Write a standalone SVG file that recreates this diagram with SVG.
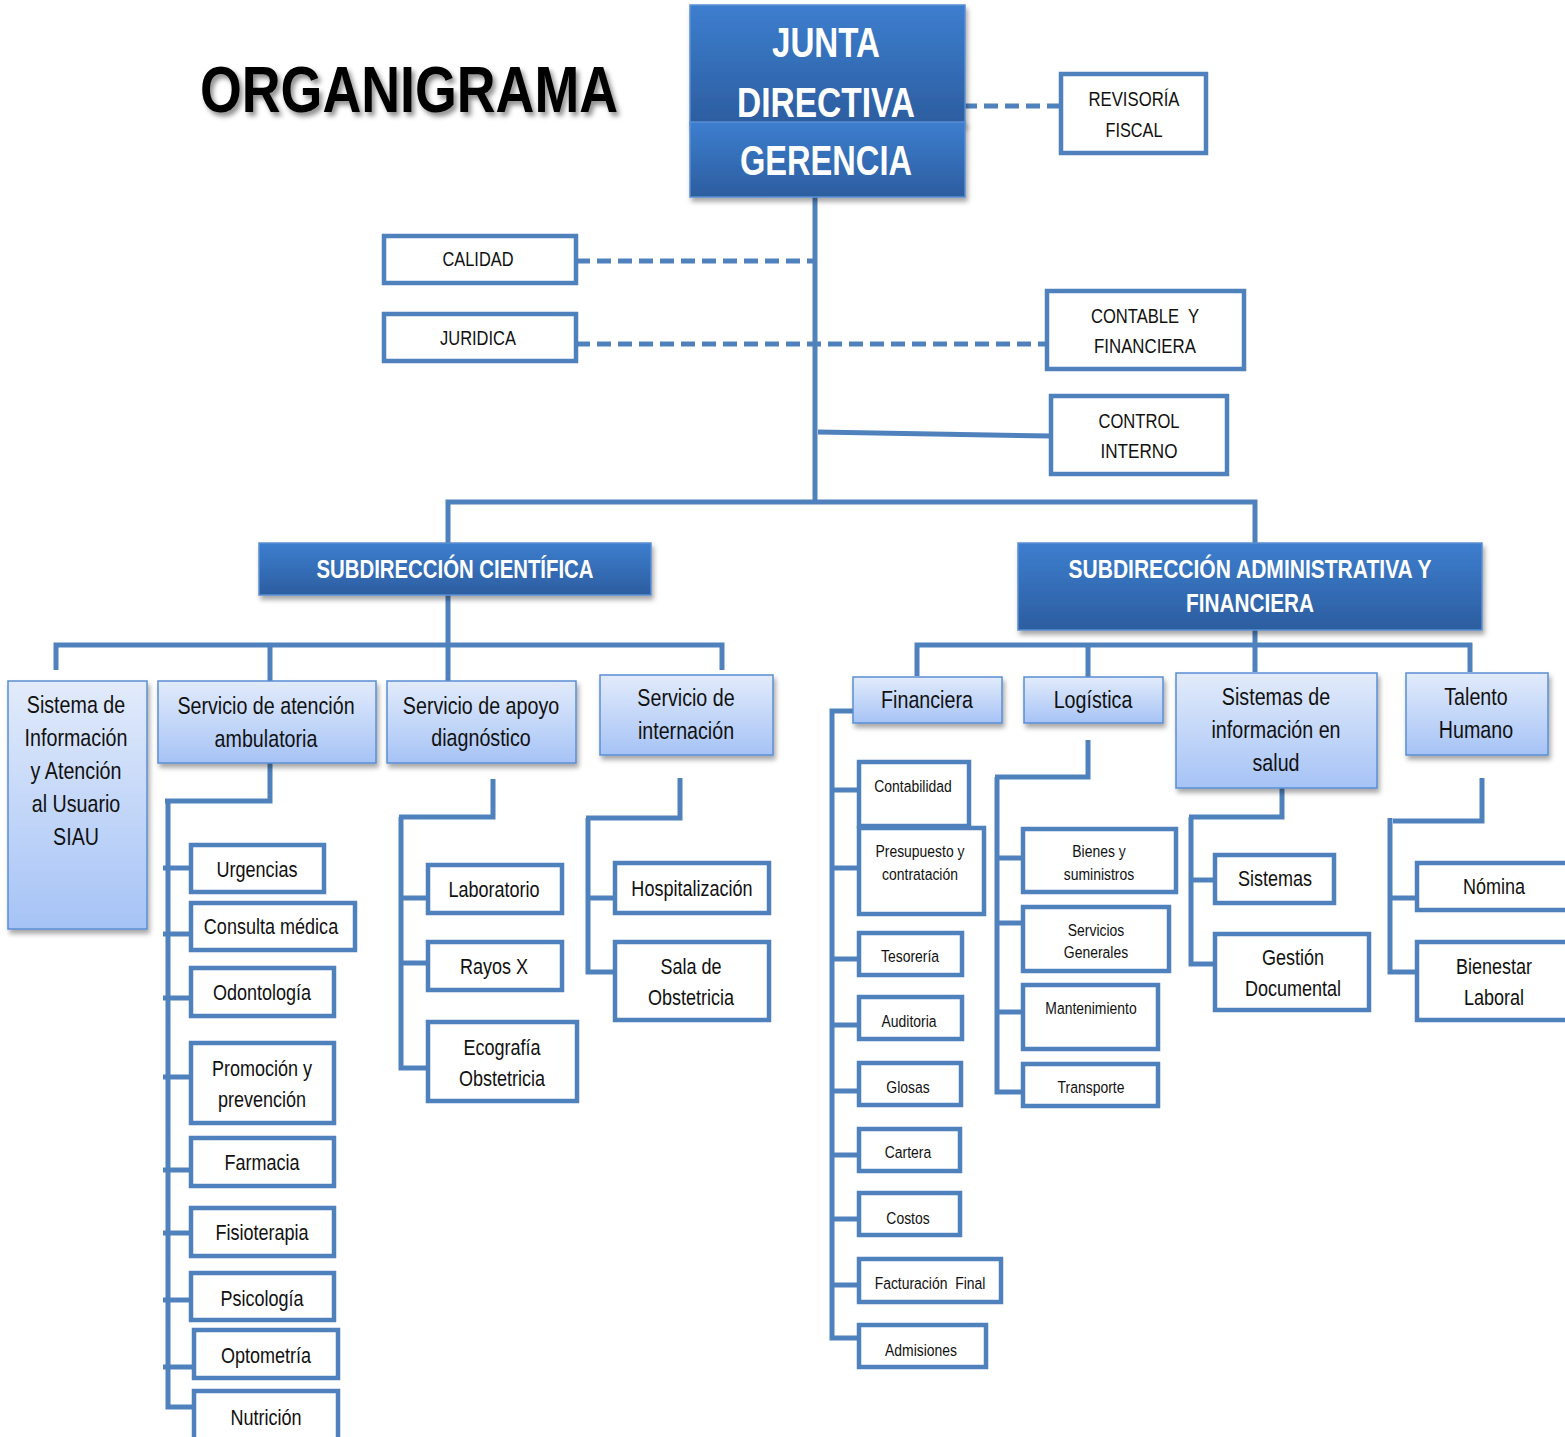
<svg xmlns="http://www.w3.org/2000/svg" width="1565" height="1437" viewBox="0 0 1565 1437">
<defs>
<linearGradient id="gDark" x1="0" y1="0" x2="0" y2="1"><stop offset="0" stop-color="#3D7ECF"/><stop offset="1" stop-color="#2C5D9F"/></linearGradient>
<linearGradient id="gLight" x1="0" y1="0" x2="0" y2="1"><stop offset="0" stop-color="#E2EBFB"/><stop offset="1" stop-color="#A6C3F6"/></linearGradient>
<filter id="sh" x="-10%" y="-10%" width="130%" height="140%"><feDropShadow dx="2" dy="4" stdDeviation="2.5" flood-color="#000" flood-opacity="0.35"/></filter>
<filter id="tsh" x="-5%" y="-20%" width="115%" height="150%"><feDropShadow dx="3" dy="4" stdDeviation="2.5" flood-color="#000" flood-opacity="0.45"/></filter>
<style>
.dark{fill:url(#gDark);stroke:#5A8ED3;stroke-width:1.5}
.light{fill:url(#gLight);stroke:#5A8ED3;stroke-width:1.5}
.wbox{fill:#fff;stroke:#4F81BD;stroke-width:4.5}
.ln{fill:none;stroke:#4F81BD;stroke-width:5}
.dash{fill:none;stroke:#4F81BD;stroke-width:5;stroke-dasharray:14 7}
text{font-family:"Liberation Sans",Arial,sans-serif;text-anchor:middle;fill:#111}
.t2{font-size:24px}
.t3{font-size:22px}
.t4{font-size:17px}
.tc{font-size:21px}
.tb{font-weight:bold;fill:#fff}
</style>
</defs>
<rect width="1565" height="1437" fill="#fff"/>
<text x="409" y="112" font-size="64" font-weight="bold" textLength="418" lengthAdjust="spacingAndGlyphs" filter="url(#tsh)" style="fill:#000">ORGANIGRAMA</text>

<g id="connectors">
<path class="dash" d="M963 106H1061"/>
<path class="dash" d="M576 261H815"/>
<path class="dash" d="M576 344H1050"/>
<path class="ln" d="M815 197V502"/>
<path class="ln" d="M818 432L1051 436"/>
<path class="ln" d="M448 543V502H1255V543"/>
<path class="ln" d="M448 595V681"/>
<path class="ln" d="M56 670V645H722V670"/>
<path class="ln" d="M270 645V681"/>
<path class="ln" d="M1255 630V672"/>
<path class="ln" d="M917 676V645H1470V672"/>
<path class="ln" d="M1088 645V677"/>
<path class="ln" d="M270 763V801H165"/>
<path class="ln" d="M168 801V1407H194"/>
<path class="ln" d="M163 868H191M163 934H191M163 998H191M163 1077H191M163 1170H191M163 1233H191M163 1300H191M163 1367H194"/>
<path class="ln" d="M493 779V817H399"/>
<path class="ln" d="M401 817V1068H428"/>
<path class="ln" d="M401 898H428M401 963H428"/>
<path class="ln" d="M680 778V818H586"/>
<path class="ln" d="M588 818V972H615"/>
<path class="ln" d="M588 898H615"/>
<path class="ln" d="M853 711H832V1338H859"/>
<path class="ln" d="M832 790H859M832 868H859M832 959H859M832 1025H859M832 1091H859M832 1155H859M832 1219H859M832 1285H859"/>
<path class="ln" d="M1088 740V777H995"/>
<path class="ln" d="M997 777V1092H1023"/>
<path class="ln" d="M997 858H1023M997 923H1023M997 1012H1023"/>
<path class="ln" d="M1282 788V817H1189"/>
<path class="ln" d="M1191 817V964H1215"/>
<path class="ln" d="M1191 880H1215"/>
<path class="ln" d="M1482 778V821H1393"/>
<path class="ln" d="M1390 818V972H1417"/>
<path class="ln" d="M1390 898H1417"/>
</g>

<g id="junta"><rect class="dark" x="690" y="5" width="275" height="120" filter="url(#sh)"/>
<text class="tb" x="826" y="57" font-size="42" textLength="108" lengthAdjust="spacingAndGlyphs">JUNTA</text>
<text class="tb" x="826" y="117" font-size="42" textLength="178" lengthAdjust="spacingAndGlyphs">DIRECTIVA</text></g>
<g id="gerencia"><rect class="dark" x="690" y="122" width="275" height="75" filter="url(#sh)"/>
<text class="tb" x="826" y="175" font-size="42" textLength="172" lengthAdjust="spacingAndGlyphs">GERENCIA</text></g>

<g id="revisoria"><rect class="wbox" x="1061" y="74" width="145" height="79"/>
<text class="tc" x="1134" y="106" textLength="91" lengthAdjust="spacingAndGlyphs">REVISORÍA</text>
<text class="tc" x="1134" y="137" textLength="57" lengthAdjust="spacingAndGlyphs">FISCAL</text></g>
<g id="calidad"><rect class="wbox" x="384" y="236" width="192" height="47"/>
<text class="tc" x="478" y="266" textLength="71" lengthAdjust="spacingAndGlyphs">CALIDAD</text></g>
<g id="juridica"><rect class="wbox" x="384" y="314" width="192" height="47"/>
<text class="tc" x="478" y="345" textLength="76" lengthAdjust="spacingAndGlyphs">JURIDICA</text></g>
<g id="contable"><rect class="wbox" x="1047" y="291" width="197" height="78"/>
<text class="tc" x="1145" y="323" textLength="108" lengthAdjust="spacingAndGlyphs" xml:space="preserve">CONTABLE  Y</text>
<text class="tc" x="1145" y="353" textLength="102" lengthAdjust="spacingAndGlyphs">FINANCIERA</text></g>
<g id="control"><rect class="wbox" x="1051" y="396" width="176" height="78"/>
<text class="tc" x="1139" y="428" textLength="81" lengthAdjust="spacingAndGlyphs">CONTROL</text>
<text class="tc" x="1139" y="458" textLength="77" lengthAdjust="spacingAndGlyphs">INTERNO</text></g>

<g id="sub-cientifica"><rect class="dark" x="259" y="543" width="392" height="52" filter="url(#sh)"/>
<text class="tb" x="455" y="578" font-size="25" textLength="277" lengthAdjust="spacingAndGlyphs">SUBDIRECCIÓN CIENTÍFICA</text></g>
<g id="sub-admin"><rect class="dark" x="1018" y="543" width="464" height="87" filter="url(#sh)"/>
<text class="tb" x="1250" y="578" font-size="25" textLength="363" lengthAdjust="spacingAndGlyphs">SUBDIRECCIÓN ADMINISTRATIVA Y</text>
<text class="tb" x="1250" y="612" font-size="25" textLength="128" lengthAdjust="spacingAndGlyphs">FINANCIERA</text></g>

<g id="siau"><rect class="light" x="8" y="681" width="139" height="248" filter="url(#sh)"/>
<text class="t2" transform="translate(76 0) scale(.82 1)" y="713">Sistema de</text><text class="t2" transform="translate(76 0) scale(.82 1)" y="746">Información</text><text class="t2" transform="translate(76 0) scale(.82 1)" y="779">y Atención</text><text class="t2" transform="translate(76 0) scale(.82 1)" y="812">al Usuario</text><text class="t2" transform="translate(76 0) scale(.82 1)" y="845">SIAU</text></g>
<g id="ambulatoria"><rect class="light" x="158" y="681" width="218" height="82" filter="url(#sh)"/>
<text class="t2" transform="translate(266 0) scale(.82 1)" y="714">Servicio de atención</text><text class="t2" transform="translate(266 0) scale(.82 1)" y="747">ambulatoria</text></g>
<g id="apoyo"><rect class="light" x="387" y="681" width="189" height="82" filter="url(#sh)"/>
<text class="t2" transform="translate(481 0) scale(.82 1)" y="714">Servicio de apoyo</text><text class="t2" transform="translate(481 0) scale(.82 1)" y="746">diagnóstico</text></g>
<g id="internacion"><rect class="light" x="600" y="675" width="173" height="80" filter="url(#sh)"/>
<text class="t2" transform="translate(686 0) scale(.82 1)" y="706">Servicio de</text><text class="t2" transform="translate(686 0) scale(.82 1)" y="739">internación</text></g>

<g id="financiera"><rect class="light" x="853" y="677" width="149" height="46" filter="url(#sh)"/>
<text class="t2" transform="translate(927 0) scale(.82 1)" y="708">Financiera</text></g>
<g id="logistica"><rect class="light" x="1024" y="677" width="139" height="46" filter="url(#sh)"/>
<text class="t2" transform="translate(1093 0) scale(.82 1)" y="708">Logística</text></g>
<g id="sistemas-info"><rect class="light" x="1176" y="673" width="201" height="115" filter="url(#sh)"/>
<text class="t2" transform="translate(1276 0) scale(.82 1)" y="705">Sistemas de</text><text class="t2" transform="translate(1276 0) scale(.82 1)" y="738">información en</text><text class="t2" transform="translate(1276 0) scale(.82 1)" y="771">salud</text></g>
<g id="talento"><rect class="light" x="1406" y="673" width="142" height="82" filter="url(#sh)"/>
<text class="t2" transform="translate(1476 0) scale(.82 1)" y="705">Talento</text><text class="t2" transform="translate(1476 0) scale(.82 1)" y="738">Humano</text></g>

<g id="urgencias"><rect class="wbox" x="191" y="845" width="133" height="47"/><text class="t3" transform="translate(257 0) scale(.82 1)" y="877">Urgencias</text></g>
<g id="consulta"><rect class="wbox" x="191" y="903" width="164" height="47"/><text class="t3" transform="translate(271 0) scale(.82 1)" y="934">Consulta médica</text></g>
<g id="odontologia"><rect class="wbox" x="191" y="968" width="143" height="48"/><text class="t3" transform="translate(262 0) scale(.82 1)" y="1000">Odontología</text></g>
<g id="promocion"><rect class="wbox" x="191" y="1043" width="143" height="80"/><text class="t3" transform="translate(262 0) scale(.82 1)" y="1076">Promoción y</text><text class="t3" transform="translate(262 0) scale(.82 1)" y="1107">prevención</text></g>
<g id="farmacia"><rect class="wbox" x="191" y="1138" width="143" height="48"/><text class="t3" transform="translate(262 0) scale(.82 1)" y="1170">Farmacia</text></g>
<g id="fisioterapia"><rect class="wbox" x="191" y="1208" width="143" height="48"/><text class="t3" transform="translate(262 0) scale(.82 1)" y="1240">Fisioterapia</text></g>
<g id="psicologia"><rect class="wbox" x="191" y="1273" width="143" height="47"/><text class="t3" transform="translate(262 0) scale(.82 1)" y="1306">Psicología</text></g>
<g id="optometria"><rect class="wbox" x="194" y="1330" width="144" height="48"/><text class="t3" transform="translate(266 0) scale(.82 1)" y="1363">Optometría</text></g>
<g id="nutricion"><rect class="wbox" x="194" y="1391" width="144" height="52"/><text class="t3" transform="translate(266 0) scale(.82 1)" y="1425">Nutrición</text></g>

<g id="laboratorio"><rect class="wbox" x="428" y="865" width="134" height="48"/><text class="t3" transform="translate(494 0) scale(.82 1)" y="897">Laboratorio</text></g>
<g id="rayosx"><rect class="wbox" x="428" y="942" width="134" height="48"/><text class="t3" transform="translate(494 0) scale(.82 1)" y="974">Rayos X</text></g>
<g id="ecografia"><rect class="wbox" x="428" y="1022" width="149" height="79"/><text class="t3" transform="translate(502 0) scale(.82 1)" y="1055">Ecografía</text><text class="t3" transform="translate(502 0) scale(.82 1)" y="1086">Obstetricia</text></g>

<g id="hospitalizacion"><rect class="wbox" x="615" y="863" width="154" height="50"/><text class="t3" transform="translate(692 0) scale(.82 1)" y="896">Hospitalización</text></g>
<g id="sala"><rect class="wbox" x="615" y="942" width="154" height="78"/><text class="t3" transform="translate(691 0) scale(.82 1)" y="974">Sala de</text><text class="t3" transform="translate(691 0) scale(.82 1)" y="1005">Obstetricia</text></g>

<g id="contabilidad"><rect class="wbox" x="859" y="762" width="110" height="64"/><text class="t4" transform="translate(913 0) scale(.82 1)" y="792">Contabilidad</text></g>
<g id="presupuesto"><rect class="wbox" x="859" y="828" width="125" height="86"/><text class="t4" transform="translate(920 0) scale(.82 1)" y="857">Presupuesto y</text><text class="t4" transform="translate(920 0) scale(.82 1)" y="880">contratación</text></g>
<g id="tesoreria"><rect class="wbox" x="859" y="933" width="103" height="42"/><text class="t4" transform="translate(910 0) scale(.82 1)" y="962">Tesorería</text></g>
<g id="auditoria"><rect class="wbox" x="859" y="997" width="103" height="42"/><text class="t4" transform="translate(909 0) scale(.82 1)" y="1027">Auditoria</text></g>
<g id="glosas"><rect class="wbox" x="859" y="1063" width="102" height="42"/><text class="t4" transform="translate(908 0) scale(.82 1)" y="1093">Glosas</text></g>
<g id="cartera"><rect class="wbox" x="859" y="1129" width="101" height="42"/><text class="t4" transform="translate(908 0) scale(.82 1)" y="1158">Cartera</text></g>
<g id="costos"><rect class="wbox" x="859" y="1193" width="101" height="42"/><text class="t4" transform="translate(908 0) scale(.82 1)" y="1224">Costos</text></g>
<g id="facturacion"><rect class="wbox" x="859" y="1259" width="142" height="43"/><text class="t4" transform="translate(930 0) scale(.82 1)" y="1289" xml:space="preserve">Facturación  Final</text></g>
<g id="admisiones"><rect class="wbox" x="859" y="1325" width="127" height="42"/><text class="t4" transform="translate(921 0) scale(.82 1)" y="1356">Admisiones</text></g>

<g id="bienes"><rect class="wbox" x="1023" y="829" width="153" height="63"/><text class="t4" transform="translate(1099 0) scale(.82 1)" y="857">Bienes y</text><text class="t4" transform="translate(1099 0) scale(.82 1)" y="880">suministros</text></g>
<g id="servicios"><rect class="wbox" x="1023" y="907" width="146" height="64"/><text class="t4" transform="translate(1096 0) scale(.82 1)" y="936">Servicios</text><text class="t4" transform="translate(1096 0) scale(.82 1)" y="958">Generales</text></g>
<g id="mantenimiento"><rect class="wbox" x="1023" y="985" width="135" height="64"/><text class="t4" transform="translate(1091 0) scale(.82 1)" y="1014">Mantenimiento</text></g>
<g id="transporte"><rect class="wbox" x="1023" y="1064" width="135" height="42"/><text class="t4" transform="translate(1091 0) scale(.82 1)" y="1093">Transporte</text></g>

<g id="sistemas"><rect class="wbox" x="1215" y="855" width="119" height="48"/><text class="t3" transform="translate(1275 0) scale(.82 1)" y="886">Sistemas</text></g>
<g id="gestion"><rect class="wbox" x="1215" y="934" width="154" height="76"/><text class="t3" transform="translate(1293 0) scale(.82 1)" y="965">Gestión</text><text class="t3" transform="translate(1293 0) scale(.82 1)" y="996">Documental</text></g>

<g id="nomina"><rect class="wbox" x="1417" y="863" width="160" height="47"/><text class="t3" transform="translate(1494 0) scale(.82 1)" y="894">Nómina</text></g>
<g id="bienestar"><rect class="wbox" x="1417" y="942" width="160" height="78"/><text class="t3" transform="translate(1494 0) scale(.82 1)" y="974">Bienestar</text><text class="t3" transform="translate(1494 0) scale(.82 1)" y="1005">Laboral</text></g>
</svg>
